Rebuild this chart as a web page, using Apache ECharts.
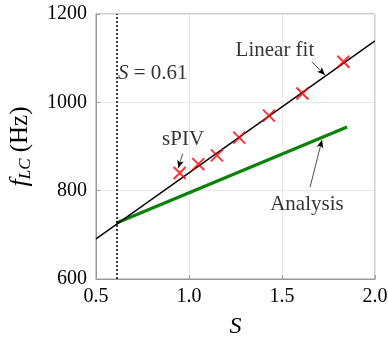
<!DOCTYPE html>
<html>
<head>
<meta charset="utf-8">
<script src="https://cdn.jsdelivr.net/npm/echarts@6/dist/echarts.min.js"></script>
<style>
  html, body { margin: 0; padding: 0; background: #fff; }
  #chart { width: 388px; height: 341px; }
</style>
</head>
<body>
<div id="chart"></div>
<script>
// sPIV measurements
const spivS = [0.95, 1.05, 1.15, 1.27, 1.43, 1.61, 1.83];
const spivF = [840, 860, 880, 920, 970, 1020, 1092];

// linear fit through sPIV points
const fitS = [0.5, 2.0];
const fitF = [691, 1139];

// analysis line
const analysisS = [0.61, 1.85];
const analysisF = [727, 944];

const sCrit = 0.61;

const xTicks = [0.5, 1.0, 1.5, 2.0];
const yTicks = [600, 800, 1000, 1200];

// annotation text (anchor in data coords) and arrows [from, to]
const notes = [
  { name: 'Linear fit', value: [1.462, 1118] },
  { name: 'sPIV', value: [0.968, 917] },
  { name: 'Analysis', value: [1.634, 768] }
];
const arrows = [
  [[1.660, 1092], [1.731, 1062]],
  [[0.966, 884], [0.942, 851]],
  [[1.651, 808], [1.715, 915]]
];
const critLabelPos = [0.618, 1089];

const font = 'Liberation Serif';
const chart = echarts.init(document.getElementById('chart'));

const option = {
  animation: false,
  textStyle: { fontFamily: font },
  grid: {
    left: 96, right: 13, top: 14, bottom: 62,
    outerBoundsMode: 'none',
    containLabel: false,
    show: true, borderColor: '#999', borderWidth: 1
  },
  xAxis: {
    type: 'value',
    min: xTicks[0], max: xTicks[xTicks.length - 1], interval: 0.5,
    name: 'S',
    nameLocation: 'middle',
    nameGap: 36,
    nameTextStyle: { fontFamily: font, fontStyle: 'italic', fontSize: 24, color: '#000' },
    axisLine: { show: true, lineStyle: { color: '#999' } },
    axisTick: { show: true, inside: true, length: 4, lineStyle: { color: '#999' } },
    axisLabel: { color: '#000', fontSize: 20, fontFamily: font, margin: 8, formatter: v => v.toFixed(1) },
    splitLine: { show: true, lineStyle: { color: '#e8e8e8' } }
  },
  yAxis: {
    type: 'value',
    min: yTicks[0], max: yTicks[yTicks.length - 1], interval: 200,
    name: '{i|f}{sub|LC}{n| (Hz)}',
    nameLocation: 'middle',
    nameRotate: 90,
    nameGap: 60,
    nameTextStyle: {
      color: '#000',
      rich: {
        i: { fontFamily: font, fontStyle: 'italic', fontSize: 26, color: '#000', lineHeight: 32 },
        sub: { fontFamily: font, fontStyle: 'italic', fontSize: 17, color: '#000', padding: [11, 0, 0, 0], lineHeight: 32 },
        n: { fontFamily: font, fontSize: 25, color: '#000', lineHeight: 32 }
      }
    },
    axisLine: { show: true, lineStyle: { color: '#999' } },
    axisTick: { show: true, inside: true, length: 4, lineStyle: { color: '#999' } },
    axisLabel: { color: '#000', fontSize: 20, fontFamily: font, margin: 9, formatter: v => String(v) },
    splitLine: { show: true, lineStyle: { color: '#e8e8e8' } }
  },
  series: [
    {
      name: 'Analysis',
      type: 'line',
      data: analysisS.map((s, i) => [s, analysisF[i]]),
      symbol: 'none',
      lineStyle: { color: '#0a820a', width: 3.2 },
      z: 3
    },
    {
      name: 'Linear fit',
      type: 'line',
      data: fitS.map((s, i) => [s, fitF[i]]),
      symbol: 'none',
      lineStyle: { color: '#000', width: 1.4 },
      z: 4,
      markLine: {
        silent: true,
        symbol: 'none',
        label: { show: false },
        lineStyle: { color: '#000', type: [2, 2], width: 1.5 },
        data: [{ xAxis: sCrit }]
      }
    },
    {
      name: 'sPIV',
      type: 'scatter',
      data: spivS.map((s, i) => [s, spivF[i]]),
      symbol: 'path://M0,0L10,10M10,0L0,10',
      symbolSize: 12,
      itemStyle: { color: 'none', borderColor: '#ff0000', borderWidth: 2 },
      z: 5
    },
    {
      name: 'notes',
      type: 'scatter',
      data: notes.concat([{ name: 'crit', value: critLabelPos }]),
      symbolSize: 0,
      silent: true,
      label: {
        show: true,
        position: 'inside',
        color: '#000',
        fontFamily: font,
        fontSize: 21,
        formatter: p => p.name === 'crit' ? '{i|S}{n| = 0.61}' : p.name,
        rich: {
          i: { fontFamily: font, fontStyle: 'italic', fontSize: 21, color: '#000' },
          n: { fontFamily: font, fontSize: 21, color: '#000' }
        }
      },
      labelLayout: p => p.dataIndex === 3 ? { align: 'left', x: p.rect.x + p.rect.width / 2 } : {},
      markLine: {
        silent: true,
        symbol: ['none', 'arrow'],
        symbolSize: [5, 8],
        label: { show: false },
        lineStyle: { color: '#000', type: 'solid', width: 0.7 },
        data: arrows.map(a => [{ coord: a[0] }, { coord: a[1] }])
      },
      z: 6
    }
  ]
};

chart.setOption(option);
</script>
</body>
</html>
